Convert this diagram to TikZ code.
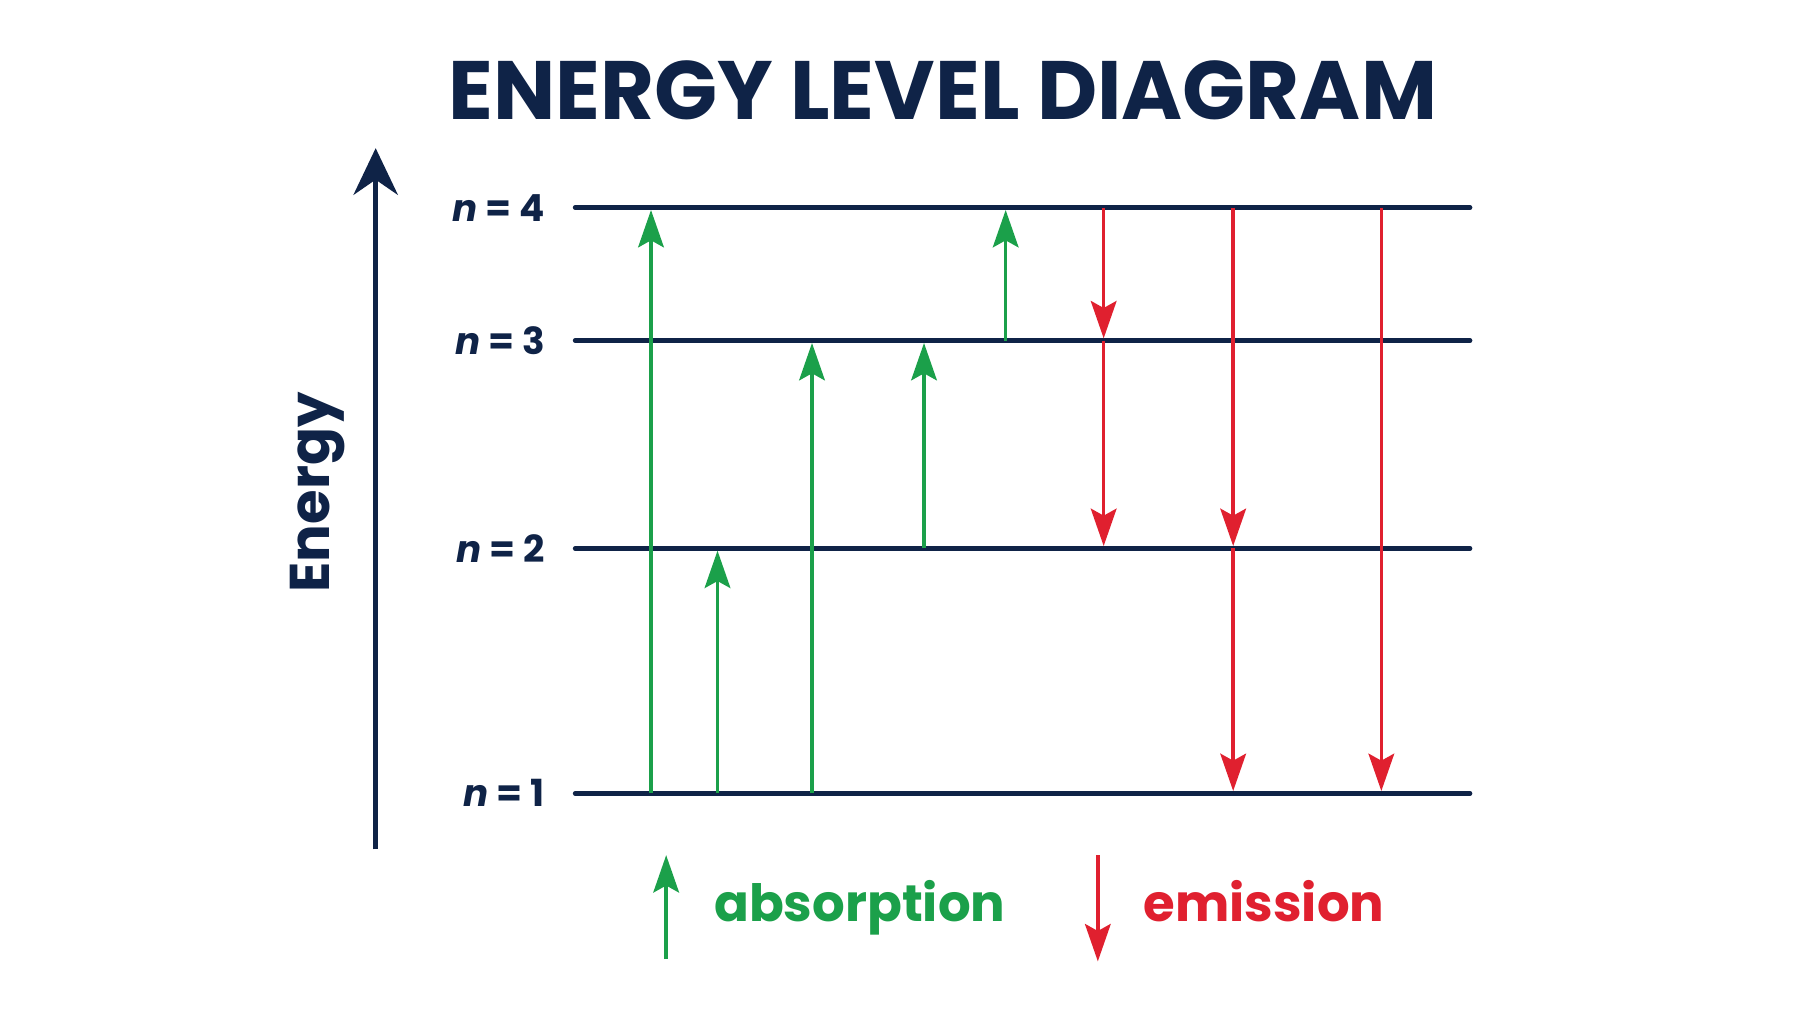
\documentclass[tikz,border=0pt]{standalone}
\usepackage{fontspec}
\setmainfont{Poppins}
\usetikzlibrary{arrows.meta}
\definecolor{navy}{HTML}{0F2347}
\definecolor{grn}{HTML}{1BA04A}
\definecolor{rd}{HTML}{E0202F}
\begin{document}
\begin{tikzpicture}[x=1pt,y=-1pt,
  lvl/.style={line width=4pt,navy,line cap=round},
  lab/.style={anchor=east,font=\fontsize{32}{32}\selectfont\bfseries,text=navy,inner sep=0},
  ab/.style={grn,line width=3pt,-{Stealth[length=32pt,width=22pt,inset=6pt]}},
  em/.style={rd,line width=3pt,-{Stealth[length=32pt,width=22pt,inset=6pt]}},
  shorten >=2pt]
\useasboundingbox (0,0) rectangle (1560,878);
\fill[white] (0,0) rectangle (1560,878);
\node[font=\fontsize{71}{71}\selectfont\bfseries,text=navy] (title) at (808,77) {ENERGY LEVEL DIAGRAM};
\coordinate (eb) at (322,728); \coordinate (et) at (322,125);
\draw[navy,line width=4pt,-{Stealth[length=40pt,width=38pt]}] (eb) -- (et);
\node[rotate=90,font=\fontsize{48}{48}\selectfont\bfseries,text=navy] (energy) at (272,422) {Energy};
\foreach \n/\y in {4/178,3/292,2/470,1/680}{
  \coordinate (L\n) at (493,\y); \coordinate (R\n) at (1262,\y);
  \draw[lvl] (L\n) -- (R\n);
  \node[lab] (lab\n) at (467,\y) {\textit{n} = \n};
}
\foreach \x/\a/\b in {558/1/4,615/1/2,696/1/3,792/2/3,862/3/4}{
  \draw[ab] (L\a -| \x,0) -- (L\b -| \x,0);}
\foreach \x/\a/\b in {946/4/3,946/3/2,1057/4/2,1057/2/1,1184/4/1}{
  \draw[em] (L\a -| \x,0) -- (L\b -| \x,0);}
\coordinate (ga) at (571,822); \coordinate (gb) at (571,733);
\draw[ab,shorten >=0pt] (ga) -- (gb);
\node[anchor=base west,text=grn,font=\fontsize{44}{44}\selectfont\bfseries,inner sep=0] (abs) at (612,790) {absorption};
\coordinate (ra) at (941,733); \coordinate (rb) at (941,824);
\draw[em,shorten >=0pt] (ra) -- (rb);
\node[anchor=base west,text=rd,font=\fontsize{44}{44}\selectfont\bfseries,inner sep=0] (emi) at (980,790) {emission};
\end{tikzpicture}
\end{document}
